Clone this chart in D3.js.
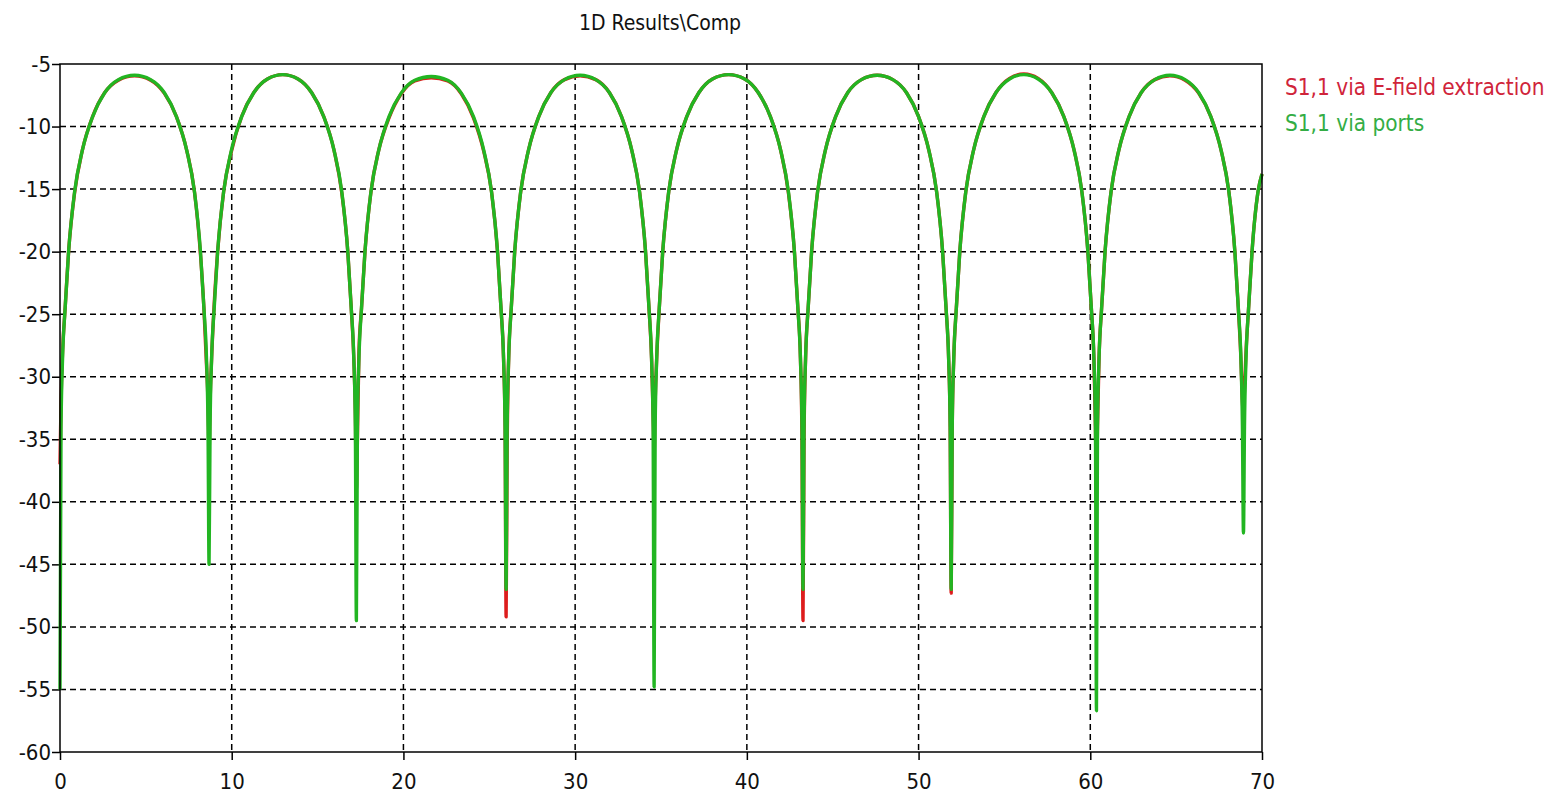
<!DOCTYPE html>
<html lang="en">
<head>
  <meta charset="UTF-8" />
  <title>1D Results\Comp</title>
  <script src="https://d3js.org/d3.v7.min.js"></script>
  <style>
    body { margin: 0; background: #fff; }
    text { font-family: "DejaVu Sans Condensed", "DejaVu Sans", sans-serif; }
    .grid line { stroke: #000; stroke-width: 1.5; stroke-dasharray: 6 4; }
  </style>
</head>
<body>
<script>

// frequency samples (shared by both curves)
var freq = [
  0, 0.06, 0.15, 0.3, 0.5, 0.85, 1.3, 1.9, 2.6, 3.4, 4.34, 5.28, 6.08, 6.78, 7.38, 7.83, 8.18, 8.38, 8.53, 8.62,
  8.68, 8.74, 8.83, 8.98, 9.18, 9.53, 9.98, 10.58, 11.28, 12.08, 12.97, 13.86, 14.66, 15.36, 15.96, 16.41, 16.76, 16.96, 17.11, 17.2,
  17.26, 17.32, 17.41, 17.56, 17.76, 18.11, 18.56, 19.16, 19.86, 20.66, 21.62, 22.58, 23.38, 24.08, 24.68, 25.13, 25.48, 25.68, 25.83, 25.92,
  25.98, 26.04, 26.13, 26.28, 26.48, 26.83, 27.28, 27.88, 28.58, 29.38, 30.29, 31.2, 32.0, 32.7, 33.3, 33.75, 34.1, 34.3, 34.45, 34.54,
  34.6, 34.66, 34.75, 34.9, 35.1, 35.45, 35.9, 36.5, 37.2, 38.0, 38.94, 39.87, 40.67, 41.37, 41.97, 42.42, 42.77, 42.97, 43.12, 43.21,
  43.27, 43.33, 43.42, 43.57, 43.77, 44.12, 44.57, 45.17, 45.87, 46.67, 47.59, 48.5, 49.3, 50.0, 50.6, 51.05, 51.4, 51.6, 51.75, 51.84,
  51.9, 51.96, 52.05, 52.2, 52.4, 52.75, 53.2, 53.8, 54.5, 55.3, 56.13, 56.96, 57.76, 58.46, 59.06, 59.51, 59.86, 60.06, 60.21, 60.3,
  60.36, 60.42, 60.51, 60.66, 60.86, 61.21, 61.66, 62.26, 62.96, 63.76, 64.64, 65.52, 66.32, 67.02, 67.62, 68.07, 68.42, 68.62, 68.77, 68.86,
  68.92, 68.98, 69.07, 69.22, 69.42, 69.77, 70.0
];

// S1,1 via E-field extraction (dB)
var s11Efield = [
  -37, -32, -28, -24.5, -20, -15.3, -11.9, -9.2, -7.3, -6.3, -5.95, -6.3, -7.35, -9.2, -11.9, -15.2, -20.2, -24.5, -29, -32,
  -36, -32, -28.5, -24.2, -20, -15.2, -12, -9.2, -7.3, -6.2, -5.85, -6.2, -7.3, -9.2, -11.9, -15.3, -20, -24.5, -28.5, -33,
  -39, -35, -28, -24.5, -20, -15.2, -11.9, -9.3, -7.4, -6.35, -6.1, -6.35, -7.4, -9.3, -12, -15.2, -20, -24.5, -28.5, -34,
  -49.2, -36, -28.5, -24.5, -20, -15.2, -11.9, -9.2, -7.3, -6.25, -5.95, -6.25, -7.3, -9.2, -11.9, -15.2, -20, -24.5, -28.5, -33,
  -36, -32, -28.5, -24.5, -20, -15.2, -11.9, -9.2, -7.3, -6.2, -5.85, -6.2, -7.3, -9.2, -11.9, -15.3, -20, -24.5, -28.5, -35,
  -49.5, -35, -28.5, -24.5, -20, -15.2, -11.9, -9.2, -7.3, -6.25, -5.9, -6.25, -7.3, -9.2, -11.9, -15.2, -20, -24.5, -28.5, -34,
  -47.3, -34, -28.5, -24.5, -20, -15.2, -11.9, -9.2, -7.3, -6.15, -5.8, -6.15, -7.3, -9.2, -11.9, -15.2, -20, -24.5, -28.5, -34,
  -38, -34, -28.5, -24.5, -20, -15.2, -11.9, -9.2, -7.3, -6.25, -5.95, -6.3, -7.35, -9.2, -11.9, -15.2, -20, -24.5, -28.5, -32,
  -33, -31, -28, -24.5, -20, -15.2, -13.8
];

// S1,1 via ports (dB)
var s11Ports = [
  -55, -34, -28.5, -24.5, -20, -15.2, -11.9, -9.2, -7.3, -6.25, -5.9, -6.25, -7.3, -9.2, -11.9, -15.2, -20, -24.5, -28.5, -34,
  -45, -34, -28.5, -24.5, -20, -15.2, -11.9, -9.2, -7.3, -6.2, -5.85, -6.2, -7.3, -9.2, -11.9, -15.2, -20, -24.5, -28.5, -34,
  -49.5, -34, -28.5, -24.5, -20, -15.2, -11.9, -9.2, -7.35, -6.3, -6.0, -6.3, -7.35, -9.2, -11.9, -15.2, -20, -24.5, -28.5, -34,
  -47, -34, -28.5, -24.5, -20, -15.2, -11.9, -9.2, -7.3, -6.25, -5.9, -6.25, -7.3, -9.2, -11.9, -15.2, -20, -24.5, -28.5, -34,
  -54.8, -34, -28.5, -24.5, -20, -15.2, -11.9, -9.2, -7.3, -6.2, -5.85, -6.2, -7.3, -9.2, -11.9, -15.2, -20, -24.5, -28.5, -34,
  -47, -34, -28.5, -24.5, -20, -15.2, -11.9, -9.2, -7.3, -6.25, -5.9, -6.25, -7.3, -9.2, -11.9, -15.2, -20, -24.5, -28.5, -34,
  -47, -34, -28.5, -24.5, -20, -15.2, -11.9, -9.2, -7.3, -6.2, -5.85, -6.2, -7.3, -9.2, -11.9, -15.2, -20, -24.5, -28.5, -34,
  -56.7, -34, -28.5, -24.5, -20, -15.2, -11.9, -9.2, -7.3, -6.25, -5.9, -6.25, -7.3, -9.2, -11.9, -15.2, -20, -24.5, -28.5, -34,
  -42.5, -34, -28.5, -24.5, -20, -15.2, -13.8
];

var xTicks = [0, 10, 20, 30, 40, 50, 60, 70];
var yTicks = [-5, -10, -15, -20, -25, -30, -35, -40, -45, -50, -55, -60];
var seriesNames = ["S1,1 via E-field extraction", "S1,1 via ports"];

var W = 1552, H = 794;
var mLeft = 60, mTop = 64, mRight = 1262, mBottom = 752;

var svg = d3.select("body").append("svg").attr("width", W).attr("height", H);

var x = d3.scaleLinear().domain([0, 70]).range([mLeft, mRight]);
var y = d3.scaleLinear().domain([-60, -5]).range([mBottom, mTop]);

// dashed grid
var grid = svg.append("g").attr("class", "grid");
grid.selectAll(".gx").data(xTicks.slice(1, -1)).enter().append("line")
  .attr("x1", d => x(d)).attr("x2", d => x(d)).attr("y1", mTop).attr("y2", mBottom);
grid.selectAll(".gy").data(yTicks.slice(1, -1)).enter().append("line")
  .attr("y1", d => y(d)).attr("y2", d => y(d)).attr("x1", mLeft).attr("x2", mRight);

// axes
var xAxis = svg.append("g").attr("transform", "translate(0," + mBottom + ")")
  .call(d3.axisBottom(x).tickValues(xTicks).tickSize(8).tickSizeOuter(0).tickPadding(13));
var yAxis = svg.append("g").attr("transform", "translate(" + mLeft + ",0)")
  .call(d3.axisLeft(y).tickValues(yTicks).tickSize(8).tickSizeOuter(0).tickPadding(1)
    .tickFormat(d => d));
[xAxis, yAxis].forEach(function(g) {
  g.select(".domain").remove();
  g.selectAll("line").attr("stroke", "#000").attr("stroke-width", 1.5);
  g.selectAll("text").attr("fill", "#111").style("font-size", "22px");
});

// lines
var line = d3.line()
  .x((d, i) => x(freq[i]))
  .y(d => y(d))
  .curve(d3.curveMonotoneX);

svg.append("path").datum(s11Efield)
  .attr("fill", "none").attr("stroke", "#dd1c1c").attr("stroke-width", 3.4)
  .attr("stroke-linejoin", "round").attr("d", line);
svg.append("path").datum(s11Ports)
  .attr("fill", "none").attr("stroke", "#22b522").attr("stroke-width", 3.4)
  .attr("stroke-linejoin", "round").attr("d", line);

// frame
svg.append("rect").attr("x", mLeft).attr("y", mTop)
  .attr("width", mRight - mLeft).attr("height", mBottom - mTop)
  .attr("fill", "none").attr("stroke", "#000").attr("stroke-width", 1.5);

// title
svg.append("text").attr("x", 660).attr("y", 30).attr("text-anchor", "middle")
  .style("font-size", "21px").attr("fill", "#111").text("1D Results\\Comp");

// legend
svg.append("text").attr("x", 1285).attr("y", 95).style("font-size", "22.4px")
  .attr("fill", "#d0243a").text(seriesNames[0]);
svg.append("text").attr("x", 1285).attr("y", 131).style("font-size", "22.4px")
  .attr("fill", "#34ad45").text(seriesNames[1]);

</script>
</body>
</html>
